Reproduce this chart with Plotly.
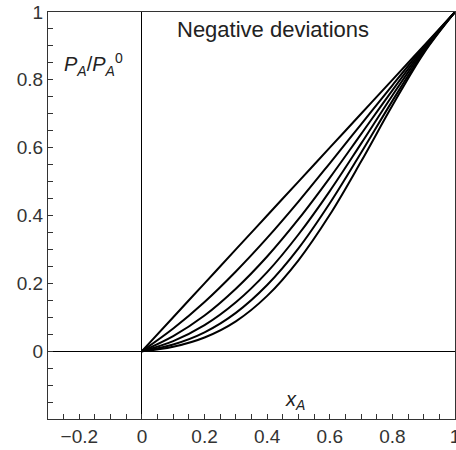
import plotly.graph_objects as go

# Mole fraction of A
x_a = [0.0, 0.1, 0.2, 0.3, 0.4, 0.5, 0.6, 0.7, 0.8, 0.9, 1.0]

# Relative vapour pressure P_A/P_A0 for increasingly negative deviations from Raoult's law
p_ideal = [0.0, 0.1, 0.2, 0.3, 0.4, 0.5, 0.6, 0.7, 0.8, 0.9, 1.0]
p_dev1 = [0.0, 0.0667, 0.145, 0.235, 0.334, 0.441, 0.554, 0.669, 0.784, 0.896, 1.0]
p_dev2 = [0.0, 0.0445, 0.105, 0.184, 0.279, 0.389, 0.511, 0.640, 0.769, 0.891, 1.0]
p_dev3 = [0.0, 0.0297, 0.0766, 0.144, 0.233, 0.344, 0.472, 0.612, 0.754, 0.887, 1.0]
p_dev4 = [0.0, 0.0198, 0.0556, 0.113, 0.195, 0.303, 0.436, 0.585, 0.738, 0.882, 1.0]
p_dev5 = [0.0, 0.0132, 0.0404, 0.088, 0.163, 0.268, 0.402, 0.559, 0.724, 0.878, 1.0]

curves = [p_ideal, p_dev1, p_dev2, p_dev3, p_dev4, p_dev5]

x_tick_vals = [-0.2, 0, 0.2, 0.4, 0.6, 0.8, 1]
x_tick_text = ["\u22120.2", "0", "0.2", "0.4", "0.6", "0.8", "1"]
y_tick_vals = [0, 0.2, 0.4, 0.6, 0.8, 1]
y_tick_text = ["0", "0.2", "0.4", "0.6", "0.8", "1"]

fig = go.Figure()
for ys in curves:
    fig.add_trace(go.Scatter(
        x=x_a, y=ys, mode="lines",
        line=dict(color="black", width=2, shape="spline", smoothing=1.0),
        hoverinfo="skip", showlegend=False,
    ))

font_family = "Liberation Sans, Arial, sans-serif"
tick_font = dict(family=font_family, size=19, color="#333333")
label_font = dict(family=font_family, size=20, color="#222222")

axis_common = dict(
    showgrid=False,
    zeroline=True, zerolinecolor="black", zerolinewidth=1.3,
    showline=True, linecolor="#333333", linewidth=1.3, mirror=True,
    ticks="inside", ticklen=5, tickwidth=1, tickcolor="#333333",
    minor=dict(dtick=0.05, ticks="inside", ticklen=5, tickwidth=1,
               tickcolor="#333333", showgrid=False),
    tickfont=tick_font,
    tickmode="array",
    ticklabeloverflow="allow",
    automargin=False,
)

fig.update_xaxes(range=[-0.3, 1.0], tickvals=x_tick_vals, ticktext=x_tick_text,
                 **axis_common)
fig.update_yaxes(range=[-0.2, 1.0], tickvals=y_tick_vals, ticktext=y_tick_text,
                 **axis_common)

fig.add_annotation(x=0.105, y=0.99, xref="x", yref="y", xanchor="left", yanchor="top",
                   text="Negative deviations", showarrow=False,
                   font=dict(family=font_family, size=22, color="#222222"))
fig.add_annotation(x=-0.255, y=0.845, xref="x", yref="y", xanchor="left", yanchor="middle",
                   text="<i>P<sub>A</sub></i>/<i>P</i><sub><i>A</i></sub><sup>0</sup>",
                   showarrow=False, font=label_font)
fig.add_annotation(x=0.49, y=-0.145, xref="x", yref="y", xanchor="center", yanchor="middle",
                   text="<i>x<sub>A</sub></i>", showarrow=False, font=label_font)

fig.update_layout(
    width=456, height=450,
    margin=dict(l=48, r=1, t=12, b=31),
    paper_bgcolor="white", plot_bgcolor="white",
)

fig.write_html("out.html")
